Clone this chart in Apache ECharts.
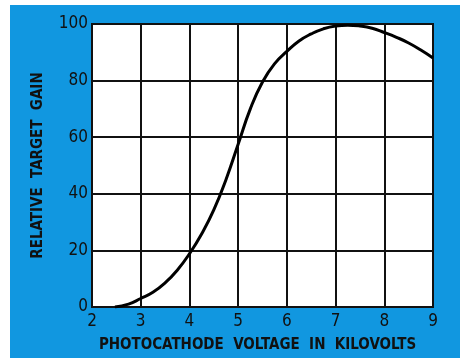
<!DOCTYPE html>
<html><head><meta charset="utf-8">
<script src="https://cdn.jsdelivr.net/npm/echarts@6/dist/echarts.min.js"></script>
<style>html,body{margin:0;padding:0;background:#fff}#c{width:460px;height:358px}</style>
</head><body><div id="c"></div>
<script>
var voltage = [2.47, 2.75, 3, 3.25, 3.5, 3.75, 4, 4.25, 4.5, 4.75, 5, 5.25, 5.5, 5.75, 6, 6.25, 6.5, 6.75, 7, 7.25, 7.5, 7.75, 8, 8.25, 8.5, 8.75, 9];
var gain    = [0, 1, 3, 5.2, 8.5, 13, 18.8, 25.8, 34.3, 45, 57.5, 70, 79.5, 86, 90.3, 94, 96.5, 98.3, 99.3, 99.6, 99.3, 98.5, 97, 95.3, 93.3, 90.8, 88];
var xTicks = [2, 3, 4, 5, 6, 7, 8, 9];
var yTicks = [0, 20, 40, 60, 80, 100];
var xTitle = 'PHOTOCATHODE  VOLTAGE  IN  KILOVOLTS';
var yTitle = 'RELATIVE  TARGET  GAIN';

var font = '"DejaVu Sans Condensed", "Liberation Sans Narrow", "DejaVu Sans", sans-serif';
var chart = echarts.init(document.getElementById('c'), null, {renderer: 'canvas'});
chart.setOption({
  backgroundColor: '#ffffff',
  animation: false,
  graphic: [{type: 'rect', z: -10, shape: {x: 10, y: 5, width: 450, height: 353}, style: {fill: '#1197e0'}}],
  grid: {left: 92, right: 27, top: 24, bottom: 47, show: true, backgroundColor: '#ffffff', borderColor: '#111', borderWidth: 2},
  xAxis: {
    type: 'value', min: xTicks[0], max: xTicks[xTicks.length - 1], interval: 1,
    axisLine: {show: false}, axisTick: {show: false},
    splitLine: {show: true, lineStyle: {color: '#111', width: 2}},
    axisLabel: {color: '#111', fontFamily: font, fontSize: 17, fontWeight: 500, margin: 6},
    name: xTitle, nameLocation: 'middle', nameGap: 31,
    nameTextStyle: {color: '#111', fontFamily: font, fontSize: 15, fontWeight: 'bold', padding: [0, 0, 0, -10]}
  },
  yAxis: {
    type: 'value', min: yTicks[0], max: yTicks[yTicks.length - 1], interval: 20,
    axisLine: {show: false}, axisTick: {show: false},
    splitLine: {show: true, lineStyle: {color: '#111', width: 2}},
    axisLabel: {color: '#111', fontFamily: font, fontSize: 17, fontWeight: 500, margin: 4},
    name: yTitle, nameLocation: 'middle', nameGap: 46,
    nameTextStyle: {color: '#111', fontFamily: font, fontSize: 15, fontWeight: 'bold'}
  },
  series: [{
    type: 'line', smooth: 0.5, symbol: 'none',
    data: voltage.map(function (v, i) { return [v, gain[i]]; }),
    lineStyle: {color: '#000', width: 3}
  }]
});
</script></body></html>
